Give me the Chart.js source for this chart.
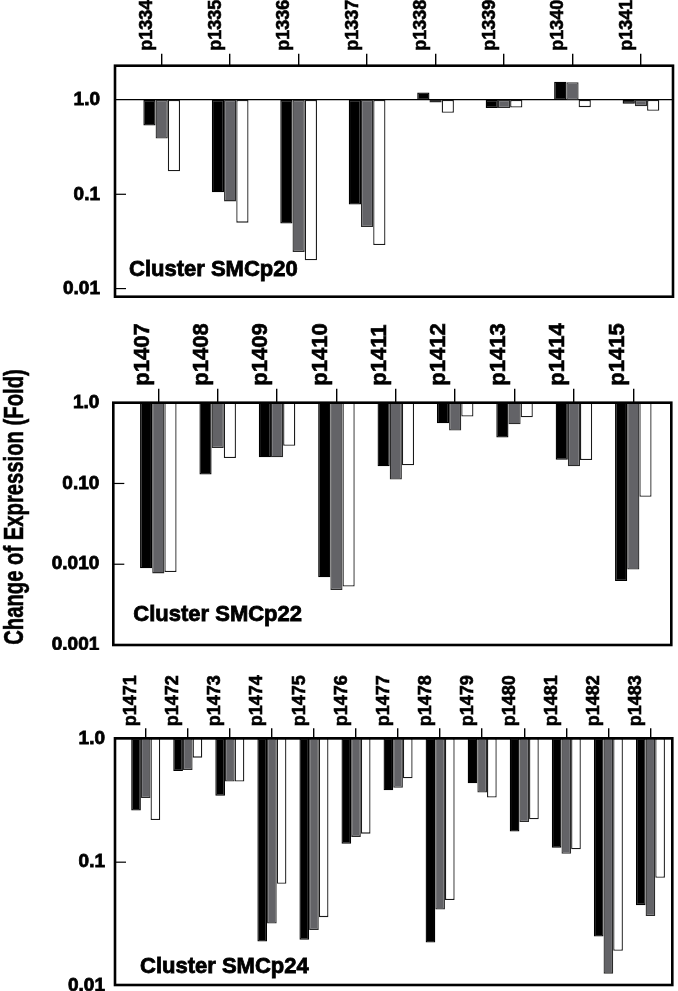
<!DOCTYPE html>
<html lang="en">
<head>
  <meta charset="UTF-8" />
  <title>Change of Expression (Fold)</title>
  <script src="https://cdn.jsdelivr.net/npm/chart.js"></script>
  <style>
    body { margin: 0; background: #fff; }
    #wrap { position: relative; width: 678px; height: 991px; overflow: hidden; }
    canvas { position: absolute; left: 0; }
    #ytitle {
      position: absolute; left: -186px; top: 492px; width: 400px; height: 30px;
      line-height: 30px; text-align: center; white-space: nowrap;
      font: bold 27px "Liberation Sans", Arial, sans-serif; color: #000;
      -webkit-text-stroke: 0.6px #000;
      transform: rotate(-90deg) scaleX(0.75);
    }
  </style>
</head>
<body>
<div id="wrap">
  <canvas id="c20" style="top:0px" width="678" height="302"></canvas>
  <canvas id="c22" style="top:300px" width="678" height="350"></canvas>
  <canvas id="c24" style="top:650px" width="678" height="341"></canvas>
  <div id="ytitle">Change of Expression (Fold)</div>
</div>

<script>
  // Cluster SMCp20
  const cats20 = ['p1334', 'p1335', 'p1336', 'p1337', 'p1338', 'p1339', 'p1340', 'p1341'];
  const black20 = [0.535, 0.105, 0.049, 0.078, 1.2, 0.82, 1.56, 0.91];
  const gray20 = [0.39, 0.084, 0.0245, 0.045, 0.94, 0.82, 1.54, 0.86];
  const white20 = [0.175, 0.05, 0.020, 0.029, 0.73, 0.83, 0.84, 0.77];
  const yTicks20 = [1, 0.1, 0.01];
  const yLabels20 = ['1.0', '0.1', '0.01'];

  // Cluster SMCp22
  const cats22 = ['p1407', 'p1408', 'p1409', 'p1410', 'p1411', 'p1412', 'p1413', 'p1414', 'p1415'];
  const black22 = [0.0089, 0.129, 0.211, 0.0069, 0.163, 0.557, 0.371, 0.197, 0.0062];
  const gray22 = [0.0077, 0.275, 0.211, 0.0048, 0.112, 0.453, 0.542, 0.163, 0.0086];
  const white22 = [0.008, 0.207, 0.293, 0.0053, 0.168, 0.673, 0.66, 0.195, 0.0686];
  const yTicks22 = [1, 0.1, 0.01, 0.001];
  const yLabels22 = ['1.0', '0.10', '0.010', '0.001'];

  // Cluster SMCp24
  const cats24 = ['p1471', 'p1472', 'p1473', 'p1474', 'p1475', 'p1476', 'p1477', 'p1478', 'p1479', 'p1480', 'p1481', 'p1482', 'p1483'];
  const black24 = [0.261, 0.545, 0.343, 0.0229, 0.0236, 0.141, 0.381, 0.0225, 0.434, 0.177, 0.131, 0.0251, 0.045];
  const gray24 = [0.33, 0.555, 0.447, 0.032, 0.0283, 0.16, 0.398, 0.0415, 0.365, 0.211, 0.117, 0.0126, 0.0367];
  const white24 = [0.219, 0.698, 0.447, 0.0669, 0.036, 0.17, 0.476, 0.0494, 0.332, 0.222, 0.127, 0.0193, 0.0748];
  const yTicks24 = [1, 0.1, 0.01];
  const yLabels24 = ['1.0', '0.1', '0.01'];

  Chart.defaults.font.family = '"Liberation Sans", Arial, sans-serif';
  Chart.defaults.color = '#000';

  function makePanel(id, cats, series, yTicks, yLabels, cfg) {
    const colors = [
      { bg: '#000000', bd: '#000000' },
      { bg: '#636367', bd: '#2a2a2a' },
      { bg: '#ffffff', bd: '#1a1a1a' }
    ];
    const datasets = series.map((vals, k) => ({
      data: vals.map((v, i) => ({ x: i, y: [1, v] })),
      backgroundColor: colors[k].bg,
      borderColor: colors[k].bd,
      borderWidth: 1.3,
      borderSkipped: false,
      categoryPercentage: cfg.catPct,
      barPercentage: 1
    }));

    // frame, inward y ticks and the cluster name
    const panelDeco = {
      id: 'panelDeco',
      afterDatasetsDraw(chart) {
        const { ctx, chartArea: a } = chart;
        const y = chart.scales.y;
        ctx.save();
        ctx.strokeStyle = '#000';
        ctx.lineWidth = 1.2;
        y.ticks.forEach(t => {
          const py = y.getPixelForValue(t.value);
          if (t.value !== 1 && py > a.top + 3 && py < a.bottom - 3) {
            ctx.beginPath();
            ctx.moveTo(a.left, py);
            ctx.lineTo(a.left + 11, py);
            ctx.stroke();
          }
        });
        ctx.lineWidth = 2.6;
        ctx.strokeRect(a.left, a.top, a.right - a.left, a.bottom - a.top);
        ctx.fillStyle = '#000';
        ctx.font = 'bold 22px "Liberation Sans", Arial, sans-serif';
        ctx.textBaseline = 'middle';
        ctx.textAlign = 'left';
        ctx.lineWidth = 0.8;
        ctx.fillText(cfg.label, a.left + cfg.labelDx, a.bottom - cfg.labelDy);
        ctx.strokeText(cfg.label, a.left + cfg.labelDx, a.bottom - cfg.labelDy);
        ctx.restore();
      }
    };

    return new Chart(document.getElementById(id), {
      type: 'bar',
      data: { datasets },
      options: {
        responsive: false,
        animation: false,
        layout: { padding: { left: 0, top: 0, right: cfg.padR, bottom: cfg.padB } },
        plugins: { legend: { display: false }, tooltip: { enabled: false } },
        scales: {
          x: {
            type: 'linear',
            position: 'top',
            min: cfg.xMin,
            max: cfg.xMax,
            offset: false,
            afterBuildTicks: s => { s.ticks = cats.map((c, i) => ({ value: i })); },
            afterFit: s => {
              s.height = cfg.xHeight;
              s.paddingLeft = 0; s.paddingRight = 0; s.paddingTop = 0; s.paddingBottom = 0;
            },
            grid: {
              offset: false,
              drawOnChartArea: false,
              drawTicks: true,
              tickLength: cfg.tickLen,
              color: '#000',
              lineWidth: 1.4
            },
            border: { display: false },
            ticks: {
              autoSkip: false,
              minRotation: 90,
              maxRotation: 90,
              padding: cfg.tickPad,
              font: { size: cfg.catFont, weight: 'bold', lineHeight: cfg.catLh },
              textStrokeColor: '#000',
              textStrokeWidth: 0.6,
              callback: v => cats[v]
            }
          },
          y: {
            type: 'logarithmic',
            min: cfg.yMin,
            max: cfg.yMax,
            afterBuildTicks: s => { s.ticks = yTicks.map(v => ({ value: v })); },
            afterFit: s => {
              s.width = cfg.yWidth;
              s.paddingLeft = 0; s.paddingRight = 0; s.paddingTop = 0; s.paddingBottom = 0;
            },
            grid: {
              drawTicks: false,
              color: c => (c.tick && c.tick.value === 1 ? '#000' : 'rgba(0,0,0,0)'),
              lineWidth: 1.2
            },
            border: { display: false },
            ticks: {
              padding: cfg.yPad,
              font: { size: 19, weight: 'bold' },
              textStrokeColor: '#000',
              textStrokeWidth: 0.8,
              callback: (v, i) => yLabels[i]
            }
          }
        }
      },
      plugins: [panelDeco]
    });
  }

  makePanel('c20', cats20, [black20, gray20, white20], yTicks20, yLabels20, {
    yMin: 0.0082, yMax: 2.31, xMin: -0.682, xMax: 7.468, catPct: 0.536,
    yWidth: 115, xHeight: 65.7, padR: 5, padB: 5.3,
    tickLen: 12, tickPad: 3, catFont: 18, catLh: 0.8, yPad: 15,
    label: 'Cluster SMCp20', labelDx: 14, labelDy: 27
  });

  makePanel('c22', cats22, [black22, gray22, white22], yTicks22, yLabels22, {
    yMin: 0.001, yMax: 1, xMin: -0.758, xMax: 8.64, catPct: 0.615,
    yWidth: 113.3, xHeight: 102.7, padR: 6.7, padB: 5,
    tickLen: 14, tickPad: 3, catFont: 22, catLh: 0.72, yPad: 14,
    label: 'Cluster SMCp22', labelDx: 20, labelDy: 30
  });

  makePanel('c24', cats24, [black24, gray24, white24], yTicks24, yLabels24, {
    yMin: 0.0102, yMax: 1, xMin: -0.73, xMax: 12.52, catPct: 0.69,
    yWidth: 115, xHeight: 88.3, padR: 5.7, padB: 6,
    tickLen: 10, tickPad: 2, catFont: 18, catLh: 0.8, yPad: 10,
    label: 'Cluster SMCp24', labelDx: 25, labelDy: 18
  });
</script>
</body>
</html>
